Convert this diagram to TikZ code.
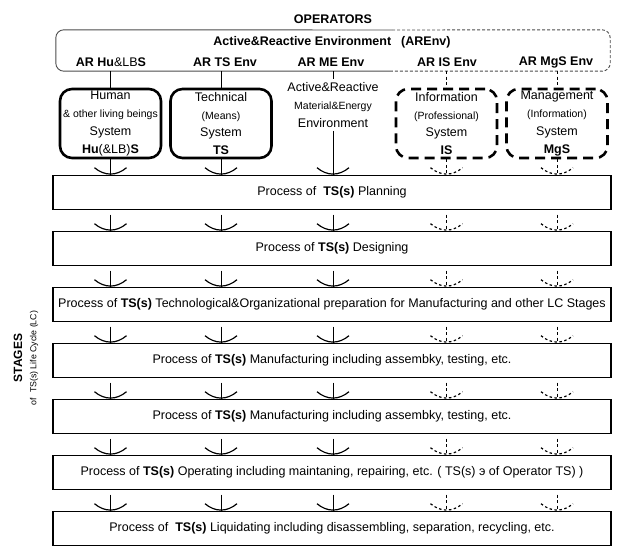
\documentclass[tikz,border=0pt]{standalone}
\usepackage{fontspec}
\setmainfont{Liberation Sans}
\usetikzlibrary{calc}
\def\socket[#1](#2){\draw[#1] ($(#2)+(-16,-7)$) .. controls ($(#2)+(-6,1.5)$) and ($(#2)+(6,1.5)$) .. ($(#2)+(16,-7)$);}

\begin{document}
\begin{tikzpicture}[x=1pt, y=-1pt,
		envlabel/.style={font=\bfseries\fontsize{12.5}{15}\selectfont, inner sep=0pt},
		envline/.style={line width=0.9pt, color=black!70},
		sysbox/.style={draw, line width=2.6pt, rounded corners=12pt, minimum width=101pt, minimum height=69pt, align=center, inner sep=0pt, font=\fontsize{12.5}{17.7}\selectfont},
		infobox/.style={sysbox, dash pattern=on 10pt off 6pt},
		procbox/.style={draw, line width=1.6pt, minimum width=558pt, minimum height=34pt, inner sep=0pt, font=\fontsize{12.5}{15}\selectfont},
		link/.style={line width=0.9pt},
		dlink/.style={line width=0.9pt, dash pattern=on 3pt off 2.5pt},
		cupline/.style={line width=1.2pt},
		dcup/.style={line width=1.2pt, dash pattern=on 2.5pt off 2.5pt}]
		%%%%% START %%%%%
		\useasboundingbox (0,0) rectangle (624,556);
		
		\node[envlabel] (operators) at (333,19) {OPERATORS};
		
		% environment frame, solid left part and dashed right part
		\node[minimum width=554pt, minimum height=41pt, inner sep=0pt] (container) at (333,50.5) {};
		\coordinate (split) at (392,30);
		\draw[envline, rounded corners=8pt] (split) -- (container.north west) -- (container.south west) -- (split |- container.south);
		\draw[envline, dash pattern=on 3pt off 2pt, rounded corners=8pt] (split) -- (container.north east) -- (container.south east) -- (split |- container.south);
		
		\node[envlabel] (arenv) at (332,42) {Active\&Reactive Environment\hspace{10pt}(AREnv)};
		\node[envlabel] (lhu) at (111,62) {AR Hu{\mdseries\&LB}S};
		\node[envlabel] (lts) at (225,62) {AR TS Env};
		\node[envlabel] (lme) at (331,62) {AR ME Env};
		\node[envlabel] (lis) at (447,62) {AR IS Env};
		\node[envlabel] (lmg) at (556,62) {AR MgS Env};
		
		% systems
		\node[sysbox] (hu) at (110.5,123.5) {Human\\{\fontsize{10.5}{17.7}\selectfont\& other living beings}\\System\\\textbf{Hu}(\&LB)\textbf{S}};
		\node[sysbox] (ts) at (221,123.5) {Technical\\{\fontsize{10.5}{17.7}\selectfont(Means)}\\System\\\textbf{TS}};
		\node[align=center, inner sep=3pt, font=\fontsize{12.5}{18}\selectfont] (me) at (333,105) {Active\&Reactive\\{\fontsize{10.5}{18}\selectfont Material\&Energy}\\Environment};
		\node[infobox] (is) at (446.5,123.5) {Information\\{\fontsize{10.5}{17.7}\selectfont(Professional)}\\System\\\textbf{IS}};
		\node[infobox] (mgs) at (557,123.5) {Management\\{\fontsize{10.5}{17.7}\selectfont(Information)}\\System\\\textbf{MgS}};
		
		\draw[link] (hu.north |- container.south) -- (hu.north);
		\draw[link] (ts.north |- container.south) -- (ts.north);
		\draw[link] (me.north |- container.south) -- (me.north);
		\draw[dlink] (is.north |- container.south) -- (is.north);
		\draw[dlink] (mgs.north |- container.south) -- (mgs.north);
		
		% stages of the life cycle
		\node[procbox] (p1) at (332,192.5) {Process of~ \textbf{TS(s)} Planning};
		\node[procbox] (p2) at (332,248.5) {Process of \textbf{TS(s)} Designing};
		\node[procbox] (p3) at (332,304.5) {Process of \textbf{TS(s)} Technological\&Organizational preparation for Manufacturing and other LC Stages};
		\node[procbox] (p4) at (332,360.5) {Process of \textbf{TS(s)} Manufacturing including assembky, testing, etc.};
		\node[procbox] (p5) at (332,416.5) {Process of \textbf{TS(s)} Manufacturing including assembky, testing, etc.};
		\node[procbox] (p6) at (332,472.5) {Process of \textbf{TS(s)} Operating including maintaning, repairing, etc. ( TS(s) э of Operator TS) )};
		\node[procbox] (p7) at (332,528.5) {Process of~ \textbf{TS(s)} Liquidating including disassembling, separation, recycling, etc.};
		
		\node[rotate=90, font=\bfseries\fontsize{12}{14}\selectfont] (stages) at (18,358) {STAGES};
		\node[rotate=90, font=\fontsize{8.8}{10}\selectfont] (lc) at (34,358) {of~ TS(s) Life Cycle (LC)};
		
		% sockets
		\foreach \col in {hu,ts,me} {
			\draw[link] (\col.south) -- (\col.south |- p1.north);
			\socket[cupline](\col.south |- p1.north)
			\foreach \n in {2,...,7} {
				\draw[link] ($(\col.south |- p\n.north)+(0,-16)$) -- (\col.south |- p\n.north);
				\socket[cupline](\col.south |- p\n.north)
			}
		}
		\foreach \col in {is,mgs} {
			\draw[dlink] (\col.south) -- (\col.south |- p1.north);
			\socket[dcup](\col.south |- p1.north)
			\foreach \n in {2,...,7} {
				\draw[dlink] ($(\col.south |- p\n.north)+(0,-16)$) -- (\col.south |- p\n.north);
				\socket[dcup](\col.south |- p\n.north)
			}
		}
		%%%%% END %%%%%
\end{tikzpicture}
\end{document}
